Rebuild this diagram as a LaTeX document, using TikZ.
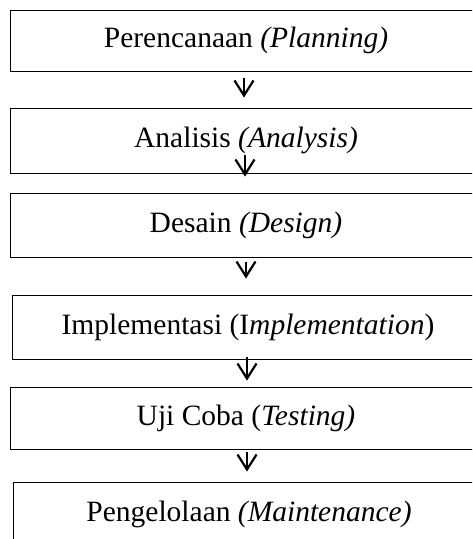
\documentclass[tikz,border=0pt]{standalone}
\usepackage{fontspec}
\setmainfont{Liberation Serif}
\usetikzlibrary{arrows.meta}

\begin{document}
\begin{tikzpicture}
[x=1pt,y=-1pt
,stage/.style={draw,line width=0.9pt,minimum width=472pt,inner sep=0pt
  ,font=\fontsize{29.5}{34}\selectfont}
,flow/.style={line width=1.7pt,arrows={-Straight Barb[length=15pt,width=19pt,line width=2.2pt]}}
]
\useasboundingbox (0,0) rectangle (472,539);
\clip (0,0) rectangle (472,539);
\node[stage,minimum height=61pt] (s1) at (246,40.5) {Perencanaan \textit{(Planning)}};
\node[stage,minimum height=65pt] (s2) at (246,140.5) {Analisis \textit{(Analysis)}};
\node[stage,minimum height=64pt] (s3) at (246,225) {Desain \textit{(Design)}};
\node[stage,minimum height=64pt] (s4) at (248,327) {Implementasi (I\textit{mplementation})};
\node[stage,minimum height=62pt] (s5) at (246,418) {Uji Coba (\textit{Testing)}};
\node[stage,minimum height=64pt] (s6) at (249,514) {Pengelolaan \textit{(Maintenance)}};
\draw[flow,shorten <=7pt,shorten >=10pt] (s1.south -| 244,0) -- (s2.north -| 244,0);
\draw[flow,shorten <=14.5pt,shorten >=16pt] (s2.center -| 245,0) -- (s3.north -| 245,0);
\draw[flow,shorten <=5pt,shorten >=16pt] (s3.south -| 246,0) -- (s4.north -| 246,0);
\draw[flow,shorten <=30pt,shorten >=6pt] (s4.center -| 247,0) -- (s5.north -| 247,0);
\draw[flow,shorten <=3pt,shorten >=10pt] (s5.south -| 247,0) -- (s6.north -| 247,0);
\end{tikzpicture}
\end{document}
